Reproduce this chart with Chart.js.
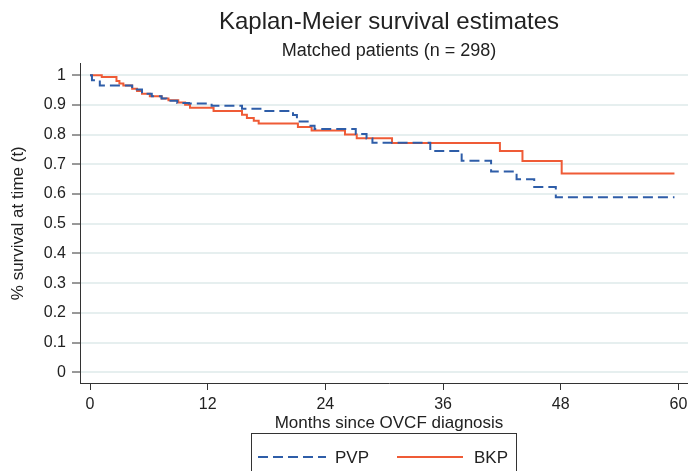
<!DOCTYPE html>
<html>
<head>
<meta charset="utf-8">
<script src="https://cdn.jsdelivr.net/npm/chart.js@4/dist/chart.umd.min.js"></script>
<style>
  html, body { margin: 0; padding: 0; background: #fff; }
  #wrap { width: 688px; height: 471px; overflow: hidden; }
</style>
</head>
<body>
<div id="wrap"><canvas id="kmChart" width="708" height="471"></canvas></div>
<script>
// step points: time (months) and survival after each drop
const pvpTime = [0, 0.2, 1.0, 4.3, 5.3, 6.3, 7.3, 7.8, 8.9, 10.1, 12.4, 15.5, 17.7, 20.7, 21.1, 22.3, 22.9, 27.1, 28.2, 28.8, 34.7, 37.9, 40.9, 43.5, 45.3, 47.5, 59.6];
const pvpSurv = [1.000, 0.983, 0.966, 0.952, 0.938, 0.929, 0.922, 0.914, 0.907, 0.905, 0.897, 0.887, 0.880, 0.866, 0.844, 0.830, 0.819, 0.802, 0.787, 0.773, 0.745, 0.712, 0.676, 0.650, 0.624, 0.589, 0.589];

const bkpTime = [0, 1.2, 2.7, 3.0, 3.4, 4.3, 4.8, 5.3, 6.1, 7.3, 8.0, 9.0, 9.7, 10.2, 12.6, 15.5, 16.0, 16.7, 17.2, 21.2, 22.6, 26.0, 27.2, 30.8, 41.8, 44.1, 48.1, 59.6];
const bkpSurv = [1.000, 0.994, 0.981, 0.972, 0.966, 0.955, 0.947, 0.938, 0.929, 0.922, 0.916, 0.908, 0.901, 0.891, 0.880, 0.867, 0.856, 0.847, 0.838, 0.826, 0.814, 0.801, 0.788, 0.772, 0.745, 0.711, 0.669, 0.669];

const xTicks = [0, 12, 24, 36, 48, 60];
const yTicks = [0, 0.1, 0.2, 0.3, 0.4, 0.5, 0.6, 0.7, 0.8, 0.9, 1];

const blue = '#2e5da8';
const red = '#ef5b36';
const fontFam = '"Liberation Sans", Arial, Helvetica, sans-serif';

Chart.defaults.font.family = fontFam;
Chart.defaults.color = '#222';

function toPoints(t, s) {
  return t.map((v, i) => ({ x: v, y: s[i] }));
}

// Stata style legend: framed box under the x axis title
const legendBox = {
  id: 'legendBox',
  afterDraw(chart) {
    const ctx = chart.ctx;
    ctx.save();
    ctx.strokeStyle = '#333';
    ctx.lineWidth = 1;
    ctx.strokeRect(251.5, 433.5, 265, 50);
    const y = 457;
    ctx.lineWidth = 2;
    ctx.strokeStyle = blue;
    ctx.setLineDash([10, 5]);
    ctx.beginPath(); ctx.moveTo(258, y); ctx.lineTo(326, y); ctx.stroke();
    ctx.strokeStyle = red;
    ctx.setLineDash([]);
    ctx.beginPath(); ctx.moveTo(397, y); ctx.lineTo(463, y); ctx.stroke();
    ctx.fillStyle = '#222';
    ctx.font = '17px ' + fontFam;
    ctx.textBaseline = 'middle';
    ctx.fillText('PVP', 335, y + 1);
    ctx.fillText('BKP', 474, y + 1);
    ctx.restore();
  }
};

new Chart(document.getElementById('kmChart'), {
  type: 'line',
  data: {
    datasets: [
      {
        label: 'PVP',
        data: toPoints(pvpTime, pvpSurv),
        borderColor: blue,
        borderWidth: 2,
        borderDash: [10, 5],
        stepped: true,
        pointRadius: 0,
        fill: false
      },
      {
        label: 'BKP',
        data: toPoints(bkpTime, bkpSurv),
        borderColor: red,
        borderWidth: 2,
        stepped: true,
        pointRadius: 0,
        fill: false
      }
    ]
  },
  options: {
    responsive: false,
    animation: false,
    devicePixelRatio: 1,
    layout: { padding: { top: 2, right: 10, left: 0, bottom: 0 } },
    plugins: {
      legend: { display: false },
      tooltip: { enabled: false },
      title: {
        display: true,
        text: 'Kaplan-Meier survival estimates',
        fullSize: false,
        color: '#222',
        font: { size: 24, weight: 'normal' },
        padding: { top: 6, bottom: 0 }
      },
      subtitle: {
        display: true,
        text: 'Matched patients (n = 298)',
        fullSize: false,
        color: '#222',
        font: { size: 18, weight: 'normal' },
        padding: { top: 3, bottom: 2 }
      }
    },
    scales: {
      x: {
        type: 'linear',
        min: -1.02,
        max: 62,
        afterBuildTicks: s => { s.ticks = xTicks.map(v => ({ value: v })); },
        afterFit: s => { s.height = 88; },
        grid: { drawOnChartArea: false, tickLength: 7, tickColor: '#333', tickWidth: 1 },
        border: { color: '#333', width: 1 },
        ticks: { padding: 5, font: { size: 16 }, color: '#222', maxRotation: 0 },
        title: {
          display: true,
          text: 'Months since OVCF diagnosis',
          font: { size: 17 },
          color: '#222',
          padding: { top: 0, bottom: 37 }
        }
      },
      y: {
        min: -0.036,
        max: 1.04,
        afterBuildTicks: s => { s.ticks = yTicks.map(v => ({ value: v })); },
        afterFit: s => { s.width = 80; },
        grid: { color: '#e6efef', lineWidth: 2, tickLength: 8, tickColor: '#333', tickWidth: 1 },
        border: { color: '#333', width: 1 },
        ticks: {
          padding: 6,
          font: { size: 16 },
          color: '#222',
          callback: v => String(Math.round(v * 10) / 10)
        },
        title: {
          display: true,
          text: '% survival at time (t)',
          font: { size: 17 },
          color: '#222',
          padding: { top: 8, bottom: 0 }
        }
      }
    }
  },
  plugins: [legendBox]
});
</script>
</body>
</html>
